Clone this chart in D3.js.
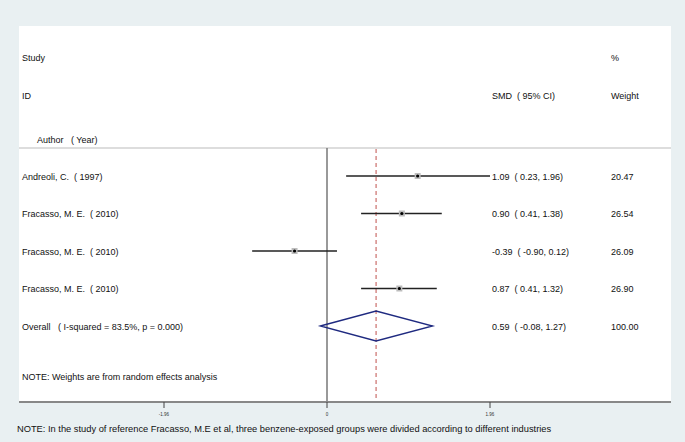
<!DOCTYPE html>
<html>
<head>
<meta charset="utf-8">
<script src="https://cdn.jsdelivr.net/npm/d3@7/dist/d3.min.js"></script>
<style>
  body { margin: 0; background: #e9f0f2; }
  svg { display: block; font-family: "Liberation Sans", Arial, sans-serif; }
  text { white-space: pre; }
</style>
</head>
<body>
<div id="chart"></div>
<script>
// width and height of the page
var w = 685;
var h = 442;

// study data
var studies = ["Andreoli, C.  ( 1997)", "Fracasso, M. E.  ( 2010)", "Fracasso, M. E.  ( 2010)", "Fracasso, M. E.  ( 2010)"];
var smd = [1.09, 0.90, -0.39, 0.87];
var lower = [0.23, 0.41, -0.90, 0.41];
var upper = [1.96, 1.38, 0.12, 1.32];
var weights = ["20.47", "26.54", "26.09", "26.90"];

// overall (random effects)
var overallLabel = "Overall   ( I-squared = 83.5%, p = 0.000)";
var overall = [0.59, -0.08, 1.27];
var overallWeight = "100.00";

var ticks = [-1.96, 0, 1.96];

var svg = d3.select("#chart")
            .append("svg")
            .attr("width", w)
            .attr("height", h);

// white plot panel
svg.append("rect")
   .attr("x", 19).attr("y", 26)
   .attr("width", 652).attr("height", 376)
   .attr("fill", "#fff");

var x = d3.scaleLinear().domain([-1.96, 1.96]).range([164, 490]);
var y = d3.scaleLinear().domain([0, 4]).range([176, 326]);

var fs = "9px";

function label(tx, ty, t, size) {
  svg.append("text")
     .attr("x", tx).attr("y", ty)
     .attr("font-size", size || fs)
     .attr("fill", "#111")
     .text(t);
}

// header texts
label(22, 61, "Study");
label(611, 61, "%");
label(22, 99, "ID");
label(492, 99, "SMD  ( 95% CI)");
label(611, 99, "Weight");
label(37, 143, "Author   ( Year)");

// top separator
svg.append("line")
   .attr("x1", 19).attr("x2", 671)
   .attr("y1", 148).attr("y2", 148)
   .attr("stroke", "#bbb").attr("stroke-width", 1);

// null line at zero
svg.append("line")
   .attr("x1", x(0)).attr("x2", x(0))
   .attr("y1", 148).attr("y2", 402)
   .attr("stroke", "#777").attr("stroke-width", 1.5);

// overall effect dashed line
svg.append("line")
   .attr("x1", x(overall[0])).attr("x2", x(overall[0]))
   .attr("y1", 149).attr("y2", 402)
   .attr("stroke", "#c0504d").attr("stroke-width", 1)
   .attr("stroke-dasharray", "4,3");

// confidence intervals
svg.selectAll("line.ci")
   .data(smd)
   .enter()
   .append("line")
   .attr("class", "ci")
   .attr("x1", function(d, i) { return x(lower[i]); })
   .attr("x2", function(d, i) { return x(upper[i]); })
   .attr("y1", function(d, i) { return y(i); })
   .attr("y2", function(d, i) { return y(i); })
   .attr("stroke", "#222")
   .attr("stroke-width", 1.4);

// weight boxes
svg.selectAll("rect.box")
   .data(smd)
   .enter()
   .append("rect")
   .attr("class", "box")
   .attr("x", function(d) { return x(d) - 3; })
   .attr("y", function(d, i) { return y(i) - 3; })
   .attr("width", 6).attr("height", 6)
   .attr("fill", "#bdbdbd");

svg.selectAll("circle.pt")
   .data(smd)
   .enter()
   .append("circle")
   .attr("class", "pt")
   .attr("cx", function(d) { return x(d); })
   .attr("cy", function(d, i) { return y(i); })
   .attr("r", 1.6)
   .attr("fill", "#000");

// study labels, estimates and weights
studies.forEach(function(s, i) {
  label(22, y(i) + 3.5, s);
  label(492, y(i) + 3.5, smd[i].toFixed(2) + "  ( " + lower[i].toFixed(2) + ", " + upper[i].toFixed(2) + ")");
  label(611, y(i) + 3.5, weights[i]);
});

// overall diamond
var yo = y(4);
svg.append("path")
   .attr("d", "M" + x(overall[1]) + "," + yo +
              "L" + x(overall[0]) + "," + (yo - 15) +
              "L" + x(overall[2]) + "," + yo +
              "L" + x(overall[0]) + "," + (yo + 15) + "Z")
   .attr("fill", "none")
   .attr("stroke", "#1f2a80")
   .attr("stroke-width", 1.3);

label(22, yo + 3.5, overallLabel);
label(492, yo + 3.5, overall[0].toFixed(2) + "  ( " + overall[1].toFixed(2) + ", " + overall[2].toFixed(2) + ")");
label(611, yo + 3.5, overallWeight);

label(22, 380, "NOTE: Weights are from random effects analysis");

// x axis
svg.append("line")
   .attr("x1", 19).attr("x2", 671)
   .attr("y1", 402).attr("y2", 402)
   .attr("stroke", "#888").attr("stroke-width", 2);

svg.selectAll("line.tick")
   .data(ticks)
   .enter()
   .append("line")
   .attr("class", "tick")
   .attr("x1", function(d) { return x(d); })
   .attr("x2", function(d) { return x(d); })
   .attr("y1", 402).attr("y2", 408)
   .attr("stroke", "#444").attr("stroke-width", 1);

svg.selectAll("text.ticklab")
   .data(ticks)
   .enter()
   .append("text")
   .attr("class", "ticklab")
   .attr("x", function(d) { return x(d); })
   .attr("y", 416)
   .attr("text-anchor", "middle")
   .attr("font-size", "4.5px")
   .attr("fill", "#333")
   .text(function(d) { return d === 0 ? "0" : d.toFixed(2); });

label(17, 432, "NOTE: In the study of reference Fracasso, M.E et al, three benzene-exposed groups were divided according to different industries", "9.3px");
</script>
</body>
</html>
